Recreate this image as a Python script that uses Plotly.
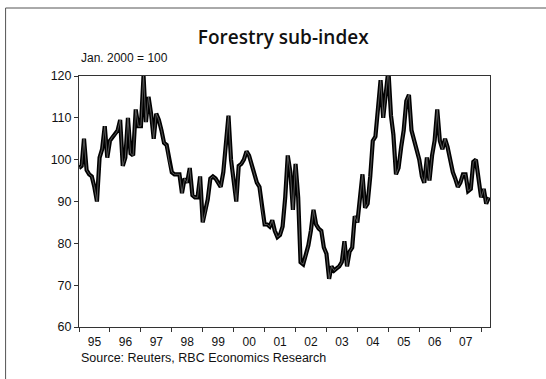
import pandas as pd
import plotly.graph_objects as go

# Monthly forestry sub-index, Jan. 2000 = 100
start_month = "1995-01-01"
index_1995 = [98, 98.5, 105, 97.5, 96.5, 96, 93.5, 90, 100.5, 102.5, 108, 100.5]
index_1996 = [104.5, 105.5, 106, 107, 109.5, 98.5, 100.5, 110, 101.5, 101, 112, 108]
index_1997 = [108, 120, 109, 115, 111, 105, 111, 109.5, 107, 104, 103.5, 99.5]
index_1998 = [97, 96.5, 96.5, 96.5, 92, 95.5, 94.5, 98, 91.5, 91, 91, 96]
index_1999 = [85, 87.5, 90.5, 95.5, 96, 95.5, 94.5, 93.5, 97, 104, 110.5, 100]
index_2000 = [95, 90, 98.5, 99, 100, 102, 101, 99, 96.5, 94.5, 93.5, 88]
index_2001 = [84.5, 84.5, 84, 85.5, 83, 81.5, 82, 84, 91, 101, 97, 88]
index_2002 = [99, 91, 75.5, 75, 77, 79.5, 83, 88, 84.5, 83.5, 83, 79]
index_2003 = [77.5, 71.5, 74.5, 73.5, 74, 74.5, 75.5, 80.5, 74.5, 78, 79, 86.5]
index_2004 = [85, 90.5, 96.5, 88.5, 89.5, 96, 104.5, 105.5, 113, 119, 110, 116]
index_2005 = [121.5, 110.5, 106, 96.5, 98, 103, 107, 114, 115.5, 107, 104.5, 102.5]
index_2006 = [100, 96, 94.5, 100.5, 95, 101, 104.5, 112, 104.5, 102.5, 105, 103]
index_2007 = [99.5, 97, 95.5, 93.5, 94.5, 96.5, 96.5, 92.5, 93, 99.5, 100, 96]
index_2008 = [91, 93, 89.5, 91]

values = (index_1995 + index_1996 + index_1997 + index_1998 + index_1999 +
          index_2000 + index_2001 + index_2002 + index_2003 + index_2004 +
          index_2005 + index_2006 + index_2007 + index_2008)
months = pd.date_range(start_month, periods=len(values), freq="MS")

title_text = "Forestry sub-index"
unit_text = "Jan. 2000 = 100"
source_text = "Source: Reuters, RBC Economics Research"
y_ticks = [60, 70, 80, 90, 100, 110, 120]

W, H = 546, 379
L, R, T, B = 78.5, 490, 76, 327  # plot area edges in pixels
pw, ph = R - L, B - T

fig = go.Figure()
# thick black line with a thin grey core
fig.add_trace(go.Scatter(x=months, y=values, mode="lines",
                         line=dict(color="#000000", width=4.2),
                         hoverinfo="skip", showlegend=False))
fig.add_trace(go.Scatter(x=months, y=values, mode="lines",
                         line=dict(color="#6a6a6a", width=0.8),
                         showlegend=False))

font_main = "Liberation Sans, Arial, sans-serif"

fig.update_layout(
    width=W, height=H,
    margin=dict(l=L, r=W - R, t=T, b=H - B, pad=0),
    paper_bgcolor="white", plot_bgcolor="white",
    font=dict(family=font_main, size=12.5, color="#111111"),
    title=dict(text=title_text, x=(283 - L) / pw, xref="paper", xanchor="center",
               y=1 - 37 / H, yref="container", yanchor="middle",
               font=dict(family="Open Sans, sans-serif", size=19, weight=600,
                         color="#111111")),
    xaxis=dict(
        type="date",
        range=["1995-01-01", "2008-04-15"],
        dtick="M12", tick0="1995-01-01",
        tickformat="%y", ticklabelmode="period",
        ticks="outside", ticklen=4, tickwidth=1, tickcolor="#333333",
        showline=True, linecolor="#333333", linewidth=1, mirror=True,
        showgrid=False, zeroline=False,
        tickfont=dict(size=12),
    ),
    yaxis=dict(
        range=[60, 120], tickvals=y_ticks,
        ticks="outside", ticklen=4, tickwidth=1, tickcolor="#333333",
        showline=True, linecolor="#333333", linewidth=1, mirror=True,
        showgrid=False, zeroline=False,
        tickfont=dict(size=12.5),
    ),
    annotations=[
        dict(text=unit_text, xref="paper", yref="paper",
             x=0, y=1 + 18 / ph, xanchor="left", yanchor="middle",
             showarrow=False, font=dict(size=12)),
        dict(text=source_text, xref="paper", yref="paper",
             x=0, y=-31 / ph, xanchor="left", yanchor="middle",
             showarrow=False, font=dict(size=12.5)),
    ],
    shapes=[
        # outer frame: left and top rules
        dict(type="line", xref="paper", yref="paper",
             x0=(5 - L) / pw, x1=(5 - L) / pw, y0=(B - H) / ph - 0.01, y1=(B - 8) / ph,
             line=dict(color="#555555", width=1)),
        dict(type="line", xref="paper", yref="paper",
             x0=(5 - L) / pw, x1=(W - L) / pw + 0.01, y0=(B - 8) / ph, y1=(B - 8) / ph,
             line=dict(color="#555555", width=1)),
    ],
)

fig.write_html("out.html")
